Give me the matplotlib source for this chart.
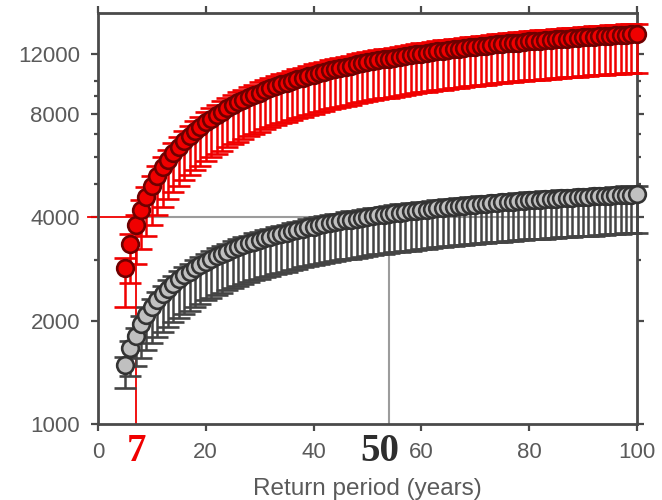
#!/usr/bin/env python3
'''Return period curves (red / gray) with error bars on a log axis'''
import numpy as np
import matplotlib
matplotlib.use('Agg')
import matplotlib.pyplot as plt
from matplotlib.ticker import FixedLocator, NullFormatter

# return periods (years)
return_period = list(range(5, 101))

# red series: central value, lower and upper bound
red_mid = [2850, 3340, 3790, 4200, 4580, 4940, 5270, 5590, 5880, 6160,
           6420, 6670, 6910, 7140, 7350, 7560, 7760, 7950, 8130, 8310,
           8480, 8640, 8790, 8940, 9090, 9230, 9370, 9500, 9630, 9750,
           9870, 9980, 10100, 10210, 10310, 10420, 10520, 10610, 10710, 10800,
           10890, 10980, 11060, 11150, 11230, 11310, 11380, 11460, 11530, 11600,
           11670, 11740, 11810, 11870, 11940, 12000, 12060, 12120, 12180, 12240,
           12290, 12350, 12400, 12450, 12500, 12560, 12600, 12650, 12700, 12750,
           12790, 12840, 12880, 12920, 12970, 13010, 13050, 13090, 13130, 13160,
           13200, 13240, 13270, 13310, 13340, 13380, 13410, 13450, 13480, 13510,
           13540, 13570, 13600, 13630, 13660, 13690]
red_lo = [2190, 2570, 2920, 3230, 3530, 3800, 4060, 4300, 4530, 4740,
          4940, 5140, 5320, 5500, 5660, 5820, 5980, 6120, 6260, 6400,
          6530, 6650, 6770, 6880, 7000, 7110, 7210, 7320, 7420, 7510,
          7600, 7680, 7780, 7860, 7940, 8020, 8100, 8170, 8250, 8320,
          8390, 8450, 8520, 8590, 8650, 8710, 8760, 8820, 8880, 8930,
          8990, 9040, 9090, 9140, 9190, 9240, 9290, 9330, 9380, 9420,
          9460, 9510, 9550, 9590, 9620, 9670, 9700, 9740, 9780, 9820,
          9850, 9890, 9920, 9950, 9990, 10020, 10050, 10080, 10110, 10130,
          10160, 10200, 10220, 10250, 10270, 10300, 10330, 10360, 10380, 10400,
          10430, 10450, 10470, 10500, 10520, 10540]
red_hi = [3050, 3570, 4060, 4490, 4900, 5290, 5640, 5980, 6290, 6590,
          6870, 7140, 7390, 7640, 7860, 8090, 8300, 8510, 8700, 8890,
          9070, 9240, 9410, 9570, 9730, 9880, 10030, 10170, 10300, 10430,
          10560, 10680, 10810, 10920, 11030, 11150, 11260, 11350, 11460, 11560,
          11650, 11750, 11830, 11930, 12020, 12100, 12180, 12260, 12340, 12410,
          12490, 12560, 12640, 12700, 12780, 12840, 12900, 12970, 13030, 13100,
          13150, 13210, 13270, 13320, 13380, 13440, 13480, 13540, 13590, 13640,
          13690, 13740, 13780, 13820, 13880, 13920, 13960, 14010, 14050, 14080,
          14120, 14170, 14200, 14240, 14270, 14320, 14350, 14390, 14420, 14460,
          14490, 14520, 14550, 14580, 14620, 14650]

# gray series: central value, lower and upper bound
gray_mid = [1490, 1660, 1810, 1950, 2080, 2190, 2290, 2390, 2480, 2560,
            2640, 2710, 2780, 2850, 2910, 2970, 3030, 3080, 3130, 3180,
            3230, 3270, 3320, 3360, 3400, 3440, 3480, 3510, 3550, 3580,
            3610, 3650, 3680, 3710, 3740, 3760, 3790, 3820, 3840, 3870,
            3890, 3920, 3940, 3960, 3990, 4010, 4030, 4050, 4070, 4090,
            4110, 4130, 4140, 4160, 4180, 4200, 4210, 4230, 4250, 4260,
            4280, 4290, 4310, 4320, 4340, 4350, 4360, 4380, 4390, 4400,
            4420, 4430, 4440, 4450, 4460, 4480, 4490, 4500, 4510, 4520,
            4530, 4540, 4550, 4560, 4570, 4580, 4590, 4600, 4610, 4620,
            4630, 4640, 4650, 4660, 4660, 4670]
gray_lo = [1270, 1380, 1480, 1560, 1640, 1720, 1790, 1850, 1920, 1980,
           2030, 2090, 2140, 2190, 2240, 2290, 2330, 2370, 2410, 2450,
           2490, 2520, 2560, 2590, 2620, 2650, 2680, 2700, 2730, 2760,
           2780, 2810, 2830, 2860, 2880, 2900, 2920, 2940, 2960, 2980,
           3000, 3020, 3030, 3050, 3070, 3090, 3100, 3120, 3130, 3150,
           3160, 3180, 3190, 3200, 3220, 3230, 3240, 3260, 3270, 3280,
           3300, 3300, 3320, 3330, 3340, 3350, 3360, 3370, 3380, 3390,
           3400, 3410, 3420, 3430, 3430, 3450, 3460, 3470, 3470, 3480,
           3490, 3500, 3500, 3510, 3520, 3530, 3530, 3540, 3550, 3560,
           3570, 3570, 3580, 3590, 3590, 3600]
gray_hi = [1570, 1750, 1910, 2060, 2190, 2310, 2420, 2520, 2620, 2700,
           2790, 2860, 2930, 3010, 3070, 3130, 3200, 3250, 3300, 3350,
           3410, 3450, 3500, 3540, 3590, 3630, 3670, 3700, 3750, 3780,
           3810, 3850, 3880, 3910, 3950, 3970, 4000, 4030, 4050, 4080,
           4100, 4140, 4160, 4180, 4210, 4230, 4250, 4270, 4290, 4320,
           4340, 4360, 4370, 4390, 4410, 4430, 4440, 4460, 4480, 4490,
           4520, 4530, 4550, 4560, 4580, 4590, 4600, 4620, 4630, 4640,
           4660, 4670, 4680, 4700, 4710, 4730, 4740, 4750, 4760, 4770,
           4780, 4790, 4800, 4810, 4820, 4830, 4840, 4850, 4860, 4870,
           4880, 4900, 4910, 4920, 4920, 4930]

# reference values marked on the chart
level = 4000
red_period = 7
gray_period = 54

RED = '#f00000'
GRAY_LINE = '#9c9c9c'
AXIS = '#4a4a4a'
TEXT = '#5a5a5a'


def draw_series(ax, mid, lo, hi, face, edge, bar):
    '''errorbar series with big round markers'''
    mid = np.array(mid)
    yerr = [mid - np.array(lo), np.array(hi) - mid]
    ax.errorbar(return_period, mid, yerr=yerr, fmt='o', ms=12,
                mfc=face, mec=edge, mew=1.9, ecolor=bar, elinewidth=1.8,
                capsize=8, capthick=1.8, clip_on=False, zorder=3)


def main():
    plt.rcParams['font.family'] = ['Liberation Sans', 'DejaVu Sans']
    fig = plt.figure(figsize=(6.62, 5), dpi=100)
    ax = fig.add_axes([0.148, 0.152, 0.814, 0.823])

    # guide lines at the 4000 level
    ax.plot([-1.9, red_period], [level, level], color=RED, lw=1.3,
            clip_on=False, zorder=2)
    ax.plot([red_period, 100], [level, level], color=GRAY_LINE, lw=1.5, zorder=1)
    ax.plot([red_period, red_period], [1000, level], color=RED, lw=1.3, zorder=2)
    ax.plot([gray_period, gray_period], [1000, level], color=GRAY_LINE, lw=1.5, zorder=1)

    draw_series(ax, gray_mid, gray_lo, gray_hi, '#c0c0c0', '#333333', '#444444')
    draw_series(ax, red_mid, red_lo, red_hi, RED, '#6e0000', RED)

    # axes setup
    ax.set_yscale('log')
    ax.set_xlim(0, 100)
    ax.set_ylim(1000, 15800)
    ax.set_xticks([0, 20, 40, 60, 80, 100])
    ax.set_yticks([1000, 2000, 4000, 8000, 12000])
    ax.set_yticklabels(['1000', '2000', '4000', '8000', '12000'])
    ax.yaxis.set_minor_locator(FixedLocator([3000, 5000, 6000, 7000, 9000, 10000]))
    ax.yaxis.set_minor_formatter(NullFormatter())

    for side in ax.spines.values():
        side.set_color(AXIS)
        side.set_linewidth(2)
    ax.tick_params(which='both', direction='out', top=True, right=True,
                   color=AXIS, width=1.6)
    ax.tick_params(which='major', length=5, labelsize=16, labelcolor=TEXT, pad=8)
    ax.tick_params(which='minor', length=3)
    ax.yaxis.get_major_ticks()[2].tick1line.set_color(RED)

    ax.set_xlabel('Return period (years)', fontsize=17.5, color=TEXT, labelpad=11)

    # the two marked periods under the axis
    trans = ax.get_xaxis_transform()
    ax.text(7.2, -0.066, '7', transform=trans, ha='center', va='center',
            fontsize=28, fontweight='bold', family='Liberation Serif', color=RED)
    ax.text(52.3, -0.066, '50', transform=trans, ha='center', va='center',
            fontsize=28, fontweight='bold', family='Liberation Serif', color='#2e2e2e')

    plt.savefig('out.png', dpi=100)


if __name__ == "__main__":
    main()
